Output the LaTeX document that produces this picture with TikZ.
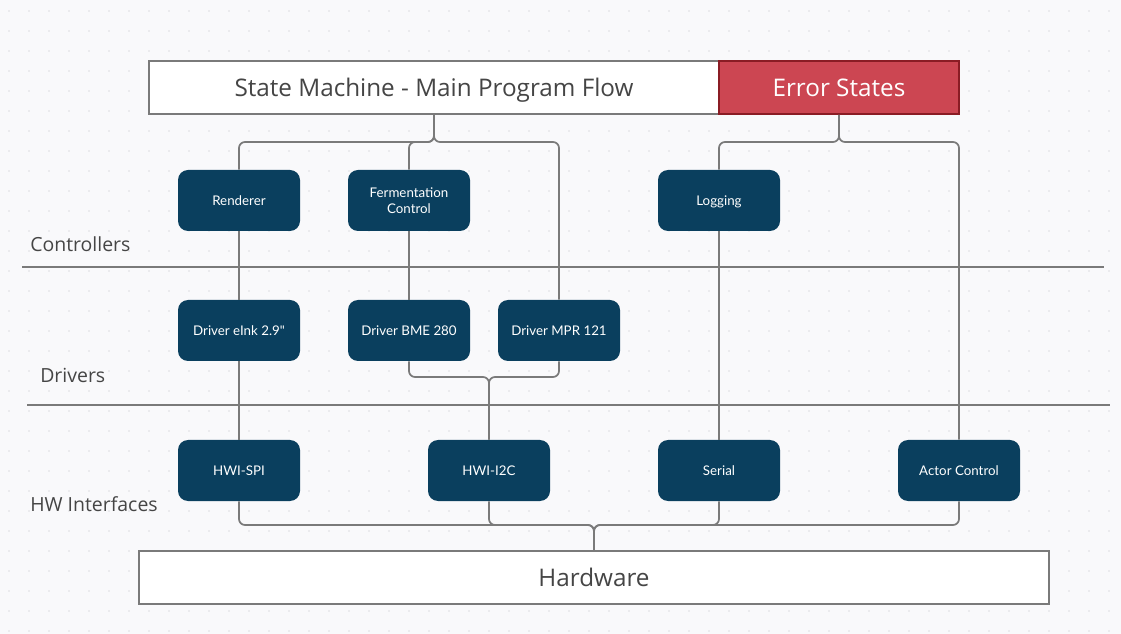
\documentclass[tikz,border=0pt]{standalone}
\usepackage{fontspec}
\setmainfont{Lato}[Ligatures=TeXOff]
\newfontfamily\opensans{Open Sans}
\usetikzlibrary{calc}
\definecolor{navy}{HTML}{0A3F5E}
\definecolor{errred}{HTML}{CC4652}
\definecolor{errborder}{HTML}{8A1C24}
\definecolor{linegrey}{HTML}{7A7A7A}
\definecolor{textgrey}{HTML}{454545}
\definecolor{bg}{HTML}{F9F9FB}
\definecolor{dotgrey}{HTML}{DEDEE2}

\begin{document}
\begin{tikzpicture}[x=0.75pt,y=-0.75pt,
    box/.style={fill=navy,rounded corners=7.5pt,minimum width=91.5pt,minimum height=45.75pt,
        inner sep=0pt,align=center,text=white,text depth=0pt,font=\fontsize{10}{12.5}\selectfont},
    bar/.style={line width=1.3pt,minimum height=39.75pt,inner sep=0pt,text depth=0pt,font=\opensans\fontsize{18.2}{21}\selectfont},
    link/.style={draw=linegrey,line width=1.3pt,rounded corners=4.5pt},
    sep/.style={draw=linegrey,line width=1.3pt},
    layer/.style={anchor=west,inner sep=0pt,text=textgrey,font=\opensans\fontsize{14.6}{17}\selectfont}]
        %%% BACKGROUND %%%
        \fill[bg] (0,0) rectangle (1121,634);
        \foreach \i in {0,...,55}
            \foreach \j in {0,...,31}
                \fill[dotgrey] ({9+20*\i},{11+20*\j}) circle (0.6pt);

        %%% LAYERS %%%
        \draw[sep] (22,267) -- (1104,267);
        \draw[sep] (27,405) -- (1110,405);
        \node[layer] (lctl) at (30,244) {Controllers};
        \node[layer] (ldrv) at (40,375) {Drivers};
        \node[layer] (lhwi) at (30,504) {HW Interfaces};

        %%% TOP AND BOTTOM BARS %%%
        \node[bar,draw=linegrey,fill=white,text=textgrey,minimum width=427.5pt] (sm) at (434,87.5) {State Machine - Main Program Flow};
        \node[bar,draw=errborder,fill=errred,text=white,minimum width=180pt] (err) at (839,87.5) {Error States};
        \node[bar,draw=linegrey,fill=white,text=textgrey,minimum width=682.5pt] (hw) at (594,577.5) {Hardware};

        %%% BOXES %%%
        \node[box] (ren) at (239,200.5) {Renderer};
        \node[box] (fer) at (409,200.5) {Fermentation\\Control};
        \node[box] (log) at (719,200.5) {Logging};
        \node[box] (eink) at (239,330.5) {Driver eInk 2.9"};
        \node[box] (bme) at (409,330.5) {Driver BME 280};
        \node[box] (mpr) at (559,330.5) {Driver MPR 121};
        \node[box] (spi) at (239,470.5) {HWI-SPI};
        \node[box] (i2c) at (489,470.5) {HWI-I2C};
        \node[box] (ser) at (719,470.5) {Serial};
        \node[box] (act) at (959,470.5) {Actor Control};

        %%% JUNCTIONS %%%
        \coordinate (smj) at (434,142);
        \coordinate (errj) at (839,142);
        \coordinate (i2cj) at (489,377);
        \coordinate (hwj) at (594,525);

        %%% LINKS %%%
        \draw[link] (sm.south) -- (smj) -| (ren.north);
        \draw[link] (sm.south) -- (smj) -| (fer.north);
        \draw[link] (sm.south) -- (smj) -| (mpr.north);
        \draw[link] (err.south) -- (errj) -| (log.north);
        \draw[link] (err.south) -- (errj) -| (act.north);
        \draw[link] (ren) -- (eink);
        \draw[link] (eink) -- (spi);
        \draw[link] (fer) -- (bme);
        \draw[link] (log) -- (ser);
        \draw[link] (bme.south) |- (i2cj) -- (i2c.north);
        \draw[link] (mpr.south) |- (i2cj) -- (i2c.north);
        \draw[link] (spi.south) |- (hwj) -- (hw.north);
        \draw[link] (i2c.south) |- (hwj) -- (hw.north);
        \draw[link] (ser.south) |- (hwj) -- (hw.north);
        \draw[link] (act.south) |- (hwj) -- (hw.north);
\end{tikzpicture}
\end{document}
